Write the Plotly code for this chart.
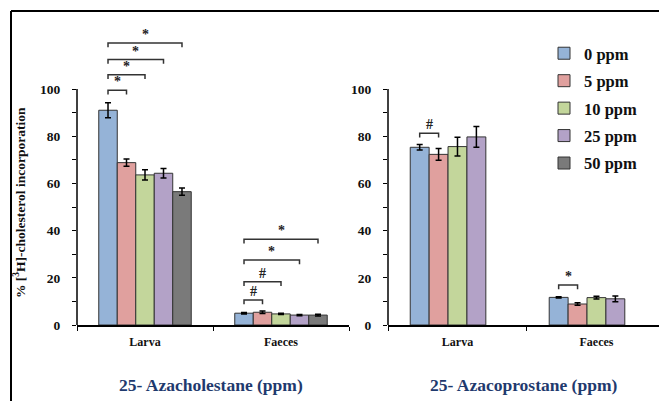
import plotly.graph_objects as go

categories = ["Larva", "Faeces"]
doses = ["0 ppm", "5 ppm", "10 ppm", "25 ppm", "50 ppm"]
colors = ["#95B3D7", "#E0A09E", "#C3D69B", "#B3A2C7", "#7A7A7A"]

# 25-Azacholestane panel
larva_azachol = [91.0, 68.8, 63.6, 64.3, 56.5]
larva_azachol_err = [3.2, 1.5, 2.2, 2.0, 1.5]
faeces_azachol = [5.0, 5.4, 4.7, 4.2, 4.2]
faeces_azachol_err = [0.3, 0.5, 0.3, 0.3, 0.4]

# 25-Azacoprostane panel (no 50 ppm group)
larva_azacop = [75.3, 72.3, 75.6, 79.7, None]
larva_azacop_err = [1.2, 2.5, 4.0, 4.4, None]
faeces_azacop = [11.7, 8.9, 11.6, 11.1, None]
faeces_azacop_err = [0.3, 0.5, 0.6, 1.2, None]

# significance brackets: (panel, category index, compared dose index, bracket level, symbol)
comparisons = [
    (1, 0, 1, 99.5, "*"), (1, 0, 2, 106.0, "*"), (1, 0, 3, 112.5, "*"), (1, 0, 4, 119.5, "*"),
    (1, 1, 1, 10.6, "#"), (1, 1, 2, 18.3, "#"), (1, 1, 3, 27.5, "*"), (1, 1, 4, 36.3, "*"),
    (2, 0, 1, 81.2, "#"),
    (2, 1, 1, 17.0, "*"),
]

FONT = "Liberation Serif"
BARGAP = 0.32
n = len(doses)
bw = (1 - BARGAP) / n

fig = go.Figure()
for i, d in enumerate(doses):
    fig.add_trace(go.Bar(
        x=categories, y=[larva_azachol[i], faeces_azachol[i]], name=d,
        marker=dict(color=colors[i], line=dict(color="#333333", width=1)),
        error_y=dict(type="data", array=[larva_azachol_err[i], faeces_azachol_err[i]],
                     color="black", thickness=1.5, width=3),
        xaxis="x", yaxis="y", legendgroup=d, showlegend=True))
for i, d in enumerate(doses):
    ya = [larva_azacop[i], faeces_azacop[i]]
    ea = [larva_azacop_err[i], faeces_azacop_err[i]]
    fig.add_trace(go.Bar(
        x=categories, y=ya, name=d,
        marker=dict(color=colors[i], line=dict(color="#333333", width=1)),
        error_y=dict(type="data", array=ea, color="black", thickness=1.5, width=3),
        xaxis="x2", yaxis="y2", legendgroup=d, showlegend=False))

shapes = []
annotations = []
for panel, cat, j, lvl, sym in comparisons:
    xr = "x" if panel == 1 else "x2"
    yr = "y" if panel == 1 else "y2"
    x0 = cat - (1 - BARGAP) / 2 + bw * 0.5
    x1 = cat - (1 - BARGAP) / 2 + bw * (j + 0.5)
    shapes.append(dict(type="path", xref=xr, yref=yr,
                       path=f"M {x0},{lvl-1.8} L {x0},{lvl} L {x1},{lvl} L {x1},{lvl-1.8}",
                       line=dict(color="#333333", width=1.5)))
    annotations.append(dict(x=(x0 + x1) / 2, y=lvl, xref=xr, yref=yr, text=sym,
                            showarrow=False, xanchor="center", yanchor="bottom", yshift=-1,
                            font=dict(family=FONT, size=14, color="#222222", weight="bold")))

# y axis lines spanning 0..100 only
for xr, yr in (("x domain", "y"), ("x2 domain", "y2")):
    shapes.append(dict(type="line", xref=xr, yref=yr, x0=0, x1=0, y0=0, y1=100,
                       line=dict(color="black", width=1.5)))

# frame lines (top and left)
shapes.append(dict(type="line", xref="paper", yref="paper", x0=11/659, x1=1.0,
                   y0=(325-11)/295, y1=(325-11)/295, line=dict(color="black", width=2)))
shapes.append(dict(type="line", xref="paper", yref="paper", x0=11/659, x1=11/659,
                   y0=(325-11)/295, y1=(325-401)/295, line=dict(color="black", width=2)))

annotations.append(dict(x=19/659, y=(325-203)/295, xref="paper", yref="paper",
                        xanchor="center", yanchor="middle",
                        text="% [<sup>3</sup>H]-cholesterol incorporation", textangle=-90,
                        showarrow=False, font=dict(family=FONT, size=13.5, color="#111111", weight="bold")))
annotations.append(dict(x=211/659, y=(325-385)/295, xref="paper", yref="paper",
                        xanchor="center", yanchor="middle",
                        text="25- Azacholestane (ppm)", showarrow=False,
                        font=dict(family=FONT, size=17.5, color="#1F3A6E", weight="bold")))
annotations.append(dict(x=523/659, y=(325-385)/295, xref="paper", yref="paper",
                        xanchor="center", yanchor="middle",
                        text="25- Azacoprostane (ppm)", showarrow=False,
                        font=dict(family=FONT, size=17.5, color="#1F3A6E", weight="bold")))

yticks = list(range(0, 101, 10))
yticktext = [str(v) if v % 20 == 0 else "" for v in yticks]

yax = dict(range=[0, 125], tickmode="array", tickvals=yticks, ticktext=yticktext,
           ticks="outside", ticklen=4, tickcolor="black", showline=False,
           showgrid=False, zeroline=False, ticklabelstandoff=9,
           tickfont=dict(family=FONT, size=13.5, color="#111111", weight="bold"))
xax = dict(showline=True, linecolor="black", linewidth=1.5, ticks="outside",
           tickson="boundaries", ticklen=4, tickcolor="black", showgrid=False,
           ticklabelstandoff=5,
           tickfont=dict(family=FONT, size=12, color="#111111", weight="bold"))

fig.update_layout(
    width=659, height=401,
    margin=dict(l=0, r=0, t=30, b=76),
    paper_bgcolor="white", plot_bgcolor="white",
    barmode="group", bargap=BARGAP, bargroupgap=0,
    xaxis=dict(xax, domain=[77/659, 349/659], range=[-0.5, 1.5], anchor="y"),
    yaxis=dict(yax, anchor="x"),
    xaxis2=dict(xax, domain=[388/659, 1.0], range=[-0.5, 1.45], anchor="y2"),
    yaxis2=dict(yax, anchor="x2"),
    shapes=shapes, annotations=annotations,
    legend=dict(x=544/659, y=(325-36)/295, xanchor="left", yanchor="top",
                traceorder="grouped", tracegroupgap=3, bgcolor="rgba(0,0,0,0)",
                font=dict(family=FONT, size=16.5, color="#111111", weight="bold"),
                itemwidth=30),
    showlegend=True,
)

fig.write_html("out.html")
